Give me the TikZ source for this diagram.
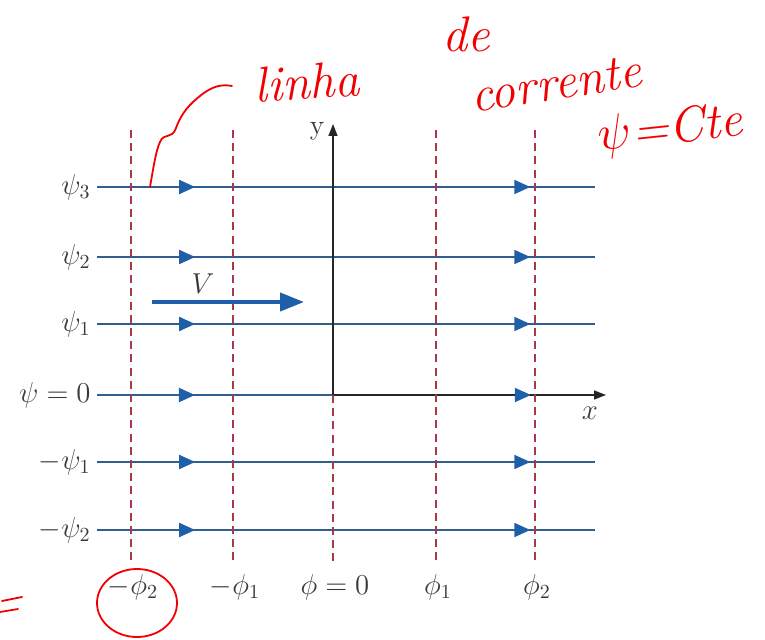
\documentclass[tikz,border=0pt]{standalone}
\usepackage{amsmath,amssymb}
\usepackage{tikz}
\usetikzlibrary{positioning,arrows.meta,decorations.markings}
\usepackage{xcolor}
\definecolor{streamblue}{HTML}{2E5F8E}
\definecolor{tipblue}{HTML}{1F5FAA}
\definecolor{potred}{HTML}{A8384A}
\definecolor{labgray}{HTML}{3A3A3A}
\definecolor{inkred}{HTML}{F20000}

\tikzset{
  streamline/.style={draw=streamblue,line width=1pt,
    postaction={decorate,decoration={markings,
      mark=at position 0.197 with {\arrow[tipblue]{Triangle[length=8pt,width=7pt]}},
      mark=at position 0.87 with {\arrow[tipblue]{Triangle[length=8pt,width=7pt]}}}}},
  potline/.style={draw=potred,line width=0.8pt,dash pattern=on 4pt off 2.6pt},
  axisline/.style={draw=black!85,line width=0.8pt,-{Triangle[length=6pt,width=4.5pt]}},
  lab/.style={text=labgray,font=\fontsize{14}{16}\selectfont,inner sep=1pt},
  ink/.style={text=inkred,font=\fontsize{25}{28}\selectfont\itshape,inner sep=0pt},
  inkline/.style={draw=inkred,line width=0.9pt,line cap=round}
}

\begin{document}
\begin{tikzpicture}[x=0.5pt,y=-0.5pt]
\useasboundingbox (0,0) rectangle (765,640);

% streamlines psi = const
\foreach \yy/\lab/\nm in {187/{\psi_3}/sA,257/{\psi_2}/sB,324/{\psi_1}/sC,462/{-\psi_1}/sD,530/{-\psi_2}/sE}{
  \coordinate (\nm w) at (97,\yy);
  \coordinate (\nm e) at (595,\yy);
  \node[lab,left=2pt of \nm w] (\nm lab) {$\lab$};
  \draw[streamline] (\nm w) -- (\nm e);
}

% psi = 0 line and x axis
\coordinate (O) at (333,395);
\coordinate (s0w) at (97,395);
\coordinate (xend) at (606,395);
\coordinate (yend) at (333,124);
\node[lab,left=2pt of s0w] (s0lab) {$\psi=0$};
\draw[draw=streamblue,line width=1pt,
  postaction={decorate,decoration={markings,
    mark=at position 0.415 with {\arrow[tipblue]{Triangle[length=8pt,width=7pt]}}}}] (s0w) -- (O);
\draw[axisline,
  postaction={decorate,decoration={markings,
    mark=at position 0.725 with {\arrow[tipblue]{Triangle[length=8pt,width=7pt]}}}}] (O) -- (xend);
\node[lab] (xlab) at (590,413) {$x$};
\node[lab] (ylab) at (317,131) {y};

% potential lines phi = const
\foreach \xx/\yt/\lab/\nm in {131/130/{-\phi_2}/pA,233/130/{-\phi_1}/pB,333/395/{\phi=0}/pC,436/130/{\phi_1}/pD,535/130/{\phi_2}/pE}{
  \coordinate (\nm t) at (\xx,\yt);
  \coordinate (\nm b) at (\xx,562);
  \draw[potline] (\nm t) -- (\nm b);
  \node[lab] (\nm lab) at (\xx+2,587) {$\lab$};
}
\draw[axisline] (O) -- (yend);

% velocity
\coordinate (vw) at (152,302);
\coordinate (ve) at (304,302);
\draw[draw=tipblue,line width=2pt,-{Triangle[length=12pt,width=9pt]}] (vw) -- (ve);
\node[lab] (vlab) at (203,284) {$V$};

% handwritten notes
\node[ink,rotate=4] (linha) at (307,82) {linha};
\node[ink] (de) at (466,34) {de};
\node[ink,rotate=9] (corr) at (556,84) {corrente};
\node[ink,rotate=6,anchor=west] (cte) at (598,138) {$\psi$=Cte};
\draw[inkline] (sAw) ++(53,0) .. controls (153,170) and (156,150) .. (160,142)
  .. controls (164,132) and (172,140) .. (176,128)
  .. controls (182,112) and (190,104) .. (200,96)
  .. controls (212,86) and (222,84) .. (232,86);
\draw[inkline] (pAlab) ++(4,16) ellipse [x radius=40,y radius=34];
\draw[inkline] (2,601) -- (22,597);
\draw[inkline] (0,612) -- (18,609);
\end{tikzpicture}
\end{document}
